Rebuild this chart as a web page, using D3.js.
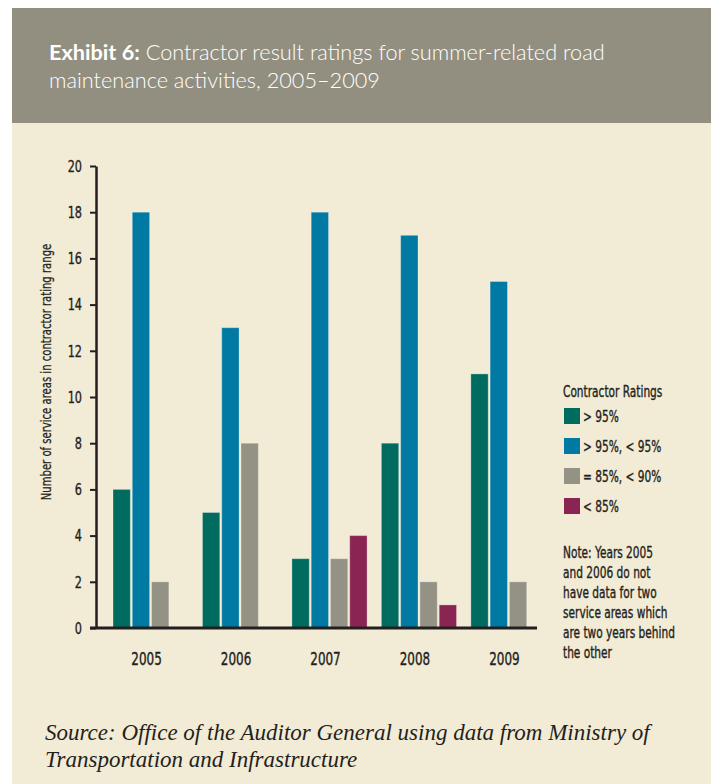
<!DOCTYPE html>
<html>
<head>
<meta charset="utf-8">
<script src="https://cdn.jsdelivr.net/npm/d3@7"></script>
<style>
  body { margin: 0; background: #fff; }
  .narrow { font-family: 'Liberation Sans Narrow', 'DejaVu Sans Condensed', sans-serif; fill: #231f20; stroke: #231f20; stroke-width: 0.35px; }
  .title { font-family: Lato, 'Open Sans', sans-serif; fill: #fff; font-size: 21.7px; font-weight: 300; }
  .source { font-family: 'Liberation Serif', 'DejaVu Serif', serif; font-style: italic; font-size: 23px; fill: #231f20; }
</style>
</head>
<body>
<div id="chart"></div>
<script>
// data read from the exhibit
var years = ["2005", "2006", "2007", "2008", "2009"];
var series = ["> 95%", "> 95%, < 95%", "= 85%, < 90%", "< 85%"];
var over95 = [6, 5, 3, 8, 11];
var between90and95 = [18, 13, 18, 17, 15];
var between85and90 = [2, 8, 3, 2, 2];
var under85 = [null, null, 4, 1, null];
var yTicks = [0, 2, 4, 6, 8, 10, 12, 14, 16, 18, 20];
var colors = ["#006b5f", "#0079a3", "#949285", "#8a2453"];

var noteLines = ["Note: Years 2005", "and 2006 do not", "have data for two",
                 "service areas which", "are two years behind", "the other"];

var svg_w = 711, svg_h = 784;
var sx = 0.76; // squeeze the condensed font closer to the original's narrow face

function squeeze(x, y) {
  return "translate(" + x + "," + y + ") scale(" + sx + ",1)";
}

var svg = d3.select("#chart")
      .append("svg")
      .attr("width", svg_w)
      .attr("height", svg_h);

// panel + header band
svg.append("rect")
  .attr("x", 12).attr("y", 8)
  .attr("width", svg_w - 12).attr("height", svg_h - 8)
  .style("fill", "#f2ebd5");

svg.append("rect")
  .attr("x", 12).attr("y", 8)
  .attr("width", svg_w - 12).attr("height", 115)
  .style("fill", "#928f81");

var title = svg.append("text")
  .attr("class", "title")
  .attr("x", 49).attr("y", 60);
title.append("tspan").style("font-weight", 700).text("Exhibit 6:");
title.append("tspan").text(" Contractor result ratings for summer-related road");

svg.append("text")
  .attr("class", "title")
  .attr("x", 49).attr("y", 88)
  .text("maintenance activities, 2005\u20132009");

// rows of data, one per year
var table = years.map(function(y, i) {
  return { year: y, values: [over95[i], between90and95[i], between85and90[i], under85[i]] };
});

// scales
var xScale = d3.scaleBand()
      .domain(years)
      .range([113, 546])
      .paddingInner(0.16)
      .paddingOuter(0);

var xInner = d3.scaleBand()
      .domain(d3.range(series.length))
      .range([0, xScale.bandwidth()])
      .paddingInner(0.1);

var yScale = d3.scaleLinear()
      .domain([0, 20])
      .range([628, 166]);

// bars
var groups = svg.selectAll(".year")
      .data(table)
      .enter()
      .append("g")
      .attr("class", "year")
      .attr("transform", function(d) { return "translate(" + xScale(d.year) + ",0)"; });

groups.selectAll("rect")
  .data(function(d) {
    return d.values.map(function(v, j) { return { s: j, v: v }; })
                   .filter(function(e) { return e.v != null; });
  })
  .enter()
  .append("rect")
  .attr("x", function(d) { return xInner(d.s); })
  .attr("y", function(d) { return yScale(d.v); })
  .attr("width", xInner.bandwidth())
  .attr("height", function(d) { return yScale(0) - yScale(d.v); })
  .style("fill", function(d) { return colors[d.s]; })
  .style("stroke", "rgba(255,255,255,0.3)")
  .style("stroke-width", 1);

// y axis
var yAxis = d3.axisLeft(yScale)
      .tickValues(yTicks)
      .tickSize(6)
      .tickSizeOuter(0);

var yg = svg.append("g")
  .attr("transform", "translate(96,0)")
  .call(yAxis);
yg.select(".domain").attr("stroke", "#231f20").attr("stroke-width", 2.5);
yg.selectAll(".tick line").attr("stroke", "#231f20").attr("stroke-width", 2);
yg.selectAll(".tick text")
  .attr("class", "narrow")
  .attr("x", null)
  .attr("transform", squeeze(-14, 0))
  .style("font-size", "16.5px")
  .style("fill", "#231f20");

// x axis baseline
svg.append("line")
  .attr("x1", 90).attr("x2", 537)
  .attr("y1", yScale(0)).attr("y2", yScale(0))
  .style("stroke", "#231f20")
  .style("stroke-width", 3);

svg.selectAll(".yearlabel")
  .data(years)
  .enter()
  .append("text")
  .attr("class", "narrow")
  .attr("text-anchor", "middle")
  .attr("transform", function(d) { return squeeze(xScale(d) + xScale.bandwidth() / 2 - 4, 665); })
  .style("font-size", "17.5px")
  .text(function(d) { return d; });

// y axis title
svg.append("text")
  .attr("class", "narrow")
  .attr("text-anchor", "middle")
  .attr("transform", "translate(51,372) rotate(-90) scale(0.8,1)")
  .style("font-size", "14px")
  .style("stroke-width", "0.25px")
  .text("Number of service areas in contractor rating range");

// legend
svg.append("text")
  .attr("class", "narrow")
  .attr("transform", squeeze(563, 397))
  .style("font-size", "15.5px")
  .text("Contractor Ratings");

var legend = svg.selectAll(".legend")
      .data(series)
      .enter()
      .append("g")
      .attr("class", "legend")
      .attr("transform", function(d, i) { return "translate(564," + (408 + i * 30) + ")"; });

legend.append("rect")
  .attr("width", 16).attr("height", 16)
  .style("fill", function(d, i) { return colors[i]; });

legend.append("text")
  .attr("class", "narrow")
  .attr("transform", squeeze(19, 14))
  .style("font-size", "15.5px")
  .text(function(d) { return d; });

svg.selectAll(".note")
  .data(noteLines)
  .enter()
  .append("text")
  .attr("class", "narrow")
  .attr("transform", function(d, i) { return squeeze(563, 558 + i * 20); })
  .style("font-size", "15.5px")
  .text(function(d) { return d; });

// source
svg.append("text").attr("class", "source").attr("x", 45).attr("y", 740)
  .text("Source: Office of the Auditor General using data from Ministry of");
svg.append("text").attr("class", "source").attr("x", 45).attr("y", 767)
  .text("Transportation and Infrastructure");
</script>
</body>
</html>
